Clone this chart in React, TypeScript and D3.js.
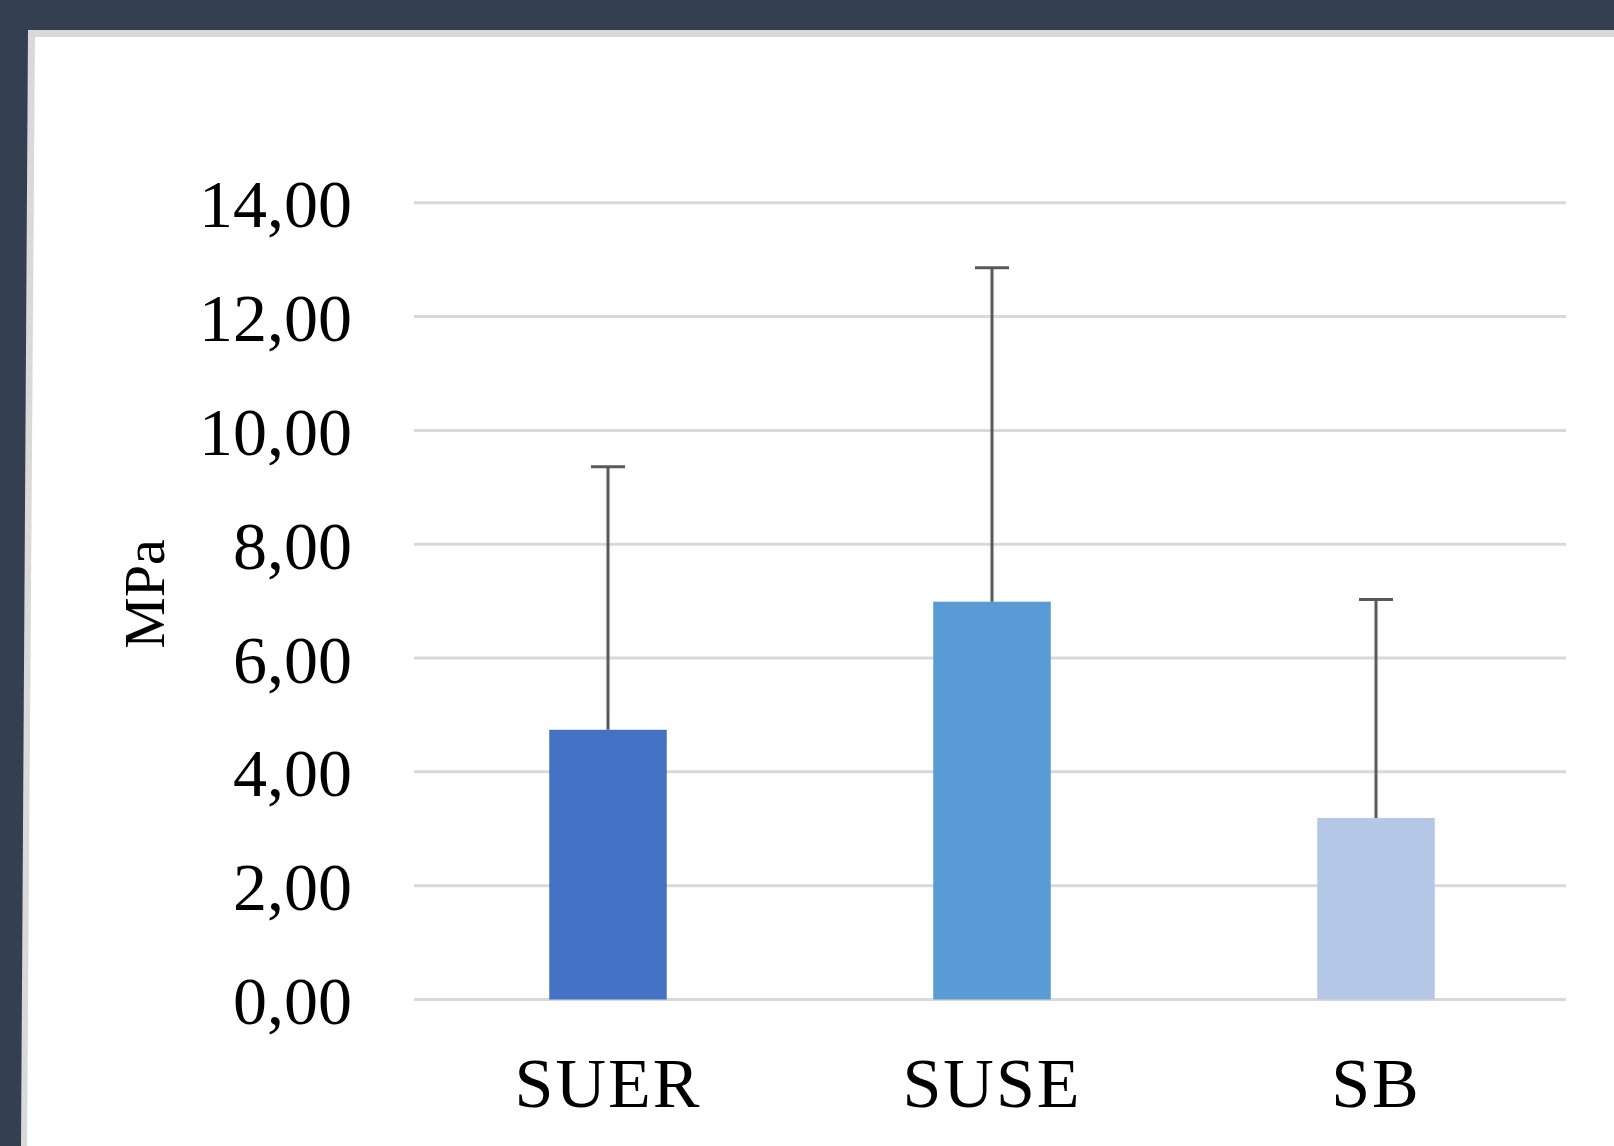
import { useEffect, useRef } from "react";
import * as d3 from "d3";

const categories = ["SUER", "SUSE", "SB"];
const means = [4.74, 6.99, 3.19];
const errors = [4.62, 5.87, 3.84];
const barColors = ["#4472c4", "#5b9bd5", "#b4c7e7"];
const yTicks = [0, 2, 4, 6, 8, 10, 12, 14];

export default function App() {
  const svgRef = useRef<SVGSVGElement>(null);

  useEffect(() => {
    if (!svgRef.current) return;
    const W = 1614, H = 1146;
    const svg = d3.select(svgRef.current).attr("width", W).attr("height", H);
    svg.selectAll("*").remove();

    // dark backdrop + slightly skewed light frame
    svg.append("rect").attr("width", W).attr("height", H).attr("fill", "#343f51");
    svg.append("path").attr("d", `M28,30 L${W},30 L${W},${H} L21,${H} Z`).attr("fill", "#d9d9d9");
    svg.append("path").attr("d", `M35,37 L${W},37 L${W},${H} L27,${H} Z`).attr("fill", "#ffffff");

    const x = d3.scaleBand().domain(categories).range([416, 1568]).paddingInner(0.694).paddingOuter(0.347);
    const y = d3.scaleLinear().domain([0, 14]).range([999.5, 202.8]);
    const font = "'Liberation Serif', 'Times New Roman', serif";

    // gridlines
    svg.append("g").selectAll("line")
      .data(yTicks)
      .join("line")
      .attr("x1", 414).attr("x2", 1566)
      .attr("y1", (d) => y(d)).attr("y2", (d) => y(d))
      .attr("stroke", "#d9d9d9")
      .attr("stroke-width", 3);

    // y tick labels
    svg.append("g").selectAll("text")
      .data(yTicks)
      .join("text")
      .attr("x", 352)
      .attr("y", (d) => y(d))
      .attr("dy", "0.36em")
      .attr("text-anchor", "end")
      .attr("font-family", font)
      .attr("font-size", 68)
      .attr("fill", "#000")
      .text((d) => d3.format(".2f")(d).replace(".", ","));

    // bars
    svg.append("g").selectAll("rect")
      .data(categories)
      .join("rect")
      .attr("x", (d) => x(d)!)
      .attr("width", x.bandwidth())
      .attr("y", (_, i) => y(means[i]))
      .attr("height", (_, i) => y(0) - y(means[i]))
      .attr("fill", (_, i) => barColors[i]);

    // error bars (upper only)
    const eb = svg.append("g").attr("stroke", "#595959").attr("stroke-width", 3);
    categories.forEach((c, i) => {
      const cx = x(c)! + x.bandwidth() / 2;
      const top = y(means[i] + errors[i]);
      eb.append("line").attr("x1", cx).attr("x2", cx).attr("y1", y(means[i])).attr("y2", top);
      eb.append("line").attr("x1", cx - 17).attr("x2", cx + 17).attr("y1", top).attr("y2", top);
    });

    // category labels
    svg.append("g").selectAll("text")
      .data(categories)
      .join("text")
      .attr("x", (d) => x(d)! + x.bandwidth() / 2)
      .attr("y", 1107)
      .attr("text-anchor", "middle")
      .attr("font-family", font)
      .attr("font-size", 70)
      .attr("letter-spacing", 2)
      .attr("fill", "#000")
      .text((d) => d);

    // axis title
    svg.append("text")
      .attr("transform", "translate(144,594) rotate(-90)")
      .attr("dy", "0.35em")
      .attr("text-anchor", "middle")
      .attr("font-family", font)
      .attr("font-size", 58)
      .attr("fill", "#000")
      .text("MPa");
  }, []);

  return (
    <div style={{ position: "absolute", top: 0, left: 0 }}>
      <svg ref={svgRef} style={{ display: "block" }} />
    </div>
  );
}
